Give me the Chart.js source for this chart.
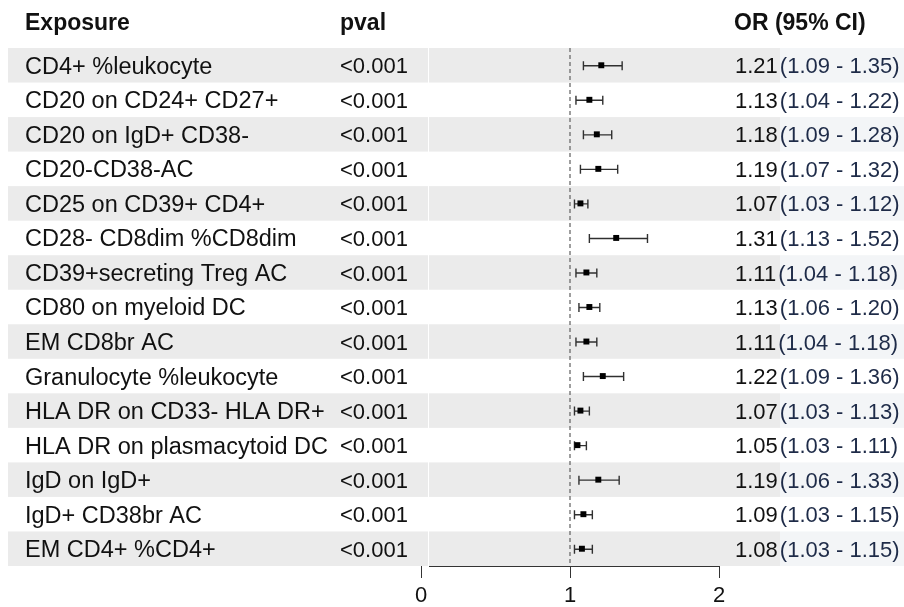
<!DOCTYPE html>
<html>
<head>
<meta charset="utf-8">
<script src="https://cdn.jsdelivr.net/npm/chart.js@4.4.1/dist/chart.umd.min.js"></script>
<style>
  html, body { margin: 0; padding: 0; background: #ffffff; }
  #wrap { position: relative; width: 904px; height: 607px; }
</style>
</head>
<body>
<div id="wrap"><canvas id="forest"></canvas></div>
<script>
// Exposures and their odds ratios with 95% confidence intervals
const exposures = [
  "CD4+ %leukocyte",
  "CD20 on CD24+ CD27+",
  "CD20 on IgD+ CD38-",
  "CD20-CD38-AC",
  "CD25 on CD39+ CD4+",
  "CD28- CD8dim %CD8dim",
  "CD39+secreting Treg AC",
  "CD80 on myeloid DC",
  "EM CD8br AC",
  "Granulocyte %leukocyte",
  "HLA DR on CD33- HLA DR+",
  "HLA DR on plasmacytoid DC",
  "IgD on IgD+",
  "IgD+ CD38br AC",
  "EM CD4+ %CD4+"
];
const pvals = ["<0.001","<0.001","<0.001","<0.001","<0.001","<0.001","<0.001","<0.001",
               "<0.001","<0.001","<0.001","<0.001","<0.001","<0.001","<0.001"];
const orValues = [1.21, 1.13, 1.18, 1.19, 1.07, 1.31, 1.11, 1.13, 1.11, 1.22, 1.07, 1.05, 1.19, 1.09, 1.08];
const ciLower  = [1.09, 1.04, 1.09, 1.07, 1.03, 1.13, 1.04, 1.06, 1.04, 1.09, 1.03, 1.03, 1.06, 1.03, 1.03];
const ciUpper  = [1.35, 1.22, 1.28, 1.32, 1.12, 1.52, 1.18, 1.20, 1.18, 1.36, 1.13, 1.11, 1.33, 1.15, 1.15];
const xTicks = [0, 1, 2];
const headers = ["Exposure", "pval", "OR (95% CI)"];

const FONT = '"Liberation Sans", Arial, Helvetica, sans-serif';
const fmt = v => v.toFixed(2);

// Table backdrop, text columns, whiskers and reference line
const forestTable = {
  id: 'forestTable',
  beforeDraw(chart) {
    const ctx = chart.ctx;
    const ys = chart.scales.y;
    const n = exposures.length;
    const half = Math.abs(ys.getPixelForValue(2) - ys.getPixelForValue(1)) / 2;
    ctx.save();
    for (let i = 0; i < n; i++) {
      if (i % 2 !== 0) continue;
      const yc = ys.getPixelForValue(i + 1);
      ctx.fillStyle = '#ebebeb';
      ctx.fillRect(8, yc - half, 772, half * 2);
      ctx.fillStyle = '#f3f5f7';
      ctx.fillRect(780, yc - half, 124, half * 2);
    }
    // thin column separator between table and plot panel
    ctx.fillStyle = '#ffffff';
    const top = ys.getPixelForValue(0.5), bottom = ys.getPixelForValue(n + 0.5);
    ctx.fillRect(428, top, 1, bottom - top);
    ctx.restore();
  },
  beforeDatasetsDraw(chart) {
    const ctx = chart.ctx;
    const xs = chart.scales.x, ys = chart.scales.y;
    const n = exposures.length;
    // null line at OR = 1
    ctx.save();
    ctx.strokeStyle = '#6b6b6b';
    ctx.lineWidth = 1.3;
    ctx.setLineDash([4, 3]);
    const x1 = xs.getPixelForValue(1);
    ctx.beginPath();
    ctx.moveTo(x1, ys.getPixelForValue(0.5));
    ctx.lineTo(x1, ys.getPixelForValue(n + 0.5));
    ctx.stroke();
    ctx.setLineDash([]);
    // confidence interval whiskers
    ctx.strokeStyle = '#303030';
    ctx.lineWidth = 1.4;
    for (let i = 0; i < n; i++) {
      const y = ys.getPixelForValue(i + 1) + 0.5;
      const xl = xs.getPixelForValue(ciLower[i]);
      const xh = xs.getPixelForValue(ciUpper[i]);
      ctx.beginPath();
      ctx.moveTo(xl, y); ctx.lineTo(xh, y);
      ctx.moveTo(xl, y - 4.5); ctx.lineTo(xl, y + 4.5);
      ctx.moveTo(xh, y - 4.5); ctx.lineTo(xh, y + 4.5);
      ctx.stroke();
    }
    ctx.restore();
  },
  afterDraw(chart) {
    const ctx = chart.ctx;
    const xs = chart.scales.x, ys = chart.scales.y;
    ctx.save();
    // x axis baseline, starting at the panel edge
    ctx.strokeStyle = '#333333';
    ctx.lineWidth = 1;
    const yb = Math.round(ys.getPixelForValue(exposures.length + 0.5)) + 0.5;
    ctx.beginPath();
    ctx.moveTo(429, yb);
    ctx.lineTo(xs.getPixelForValue(xTicks[xTicks.length - 1]), yb);
    ctx.stroke();

    ctx.textBaseline = 'middle';
    ctx.textAlign = 'left';
    ctx.fillStyle = '#111111';
    ctx.font = 'bold 23px ' + FONT;
    ctx.fillText(headers[0], 25, 24);
    ctx.fillText(headers[1], 340, 24);
    ctx.fillText(headers[2], 734, 24);
    exposures.forEach((name, i) => {
      const y = ys.getPixelForValue(i + 1) + 2;
      ctx.fillStyle = '#111111';
      ctx.font = '23.5px ' + FONT;
      ctx.fillText(name, 25, y);
      ctx.font = '22px ' + FONT;
      ctx.fillText(pvals[i], 340, y);
      const est = fmt(orValues[i]);
      ctx.fillText(est, 735, y);
      const w = ctx.measureText(est).width;
      ctx.fillStyle = '#1e2b48';
      ctx.fillText('(' + fmt(ciLower[i]) + ' - ' + fmt(ciUpper[i]) + ')', 735 + w + 2, y);
    });
    ctx.restore();
  }
};

new Chart(document.getElementById('forest'), {
  type: 'scatter',
  data: {
    datasets: [{
      data: orValues.map((v, i) => ({ x: v, y: i + 1 })),
      pointStyle: 'rect',
      pointRadius: 4.2,
      pointHoverRadius: 4.2,
      backgroundColor: '#000000',
      borderColor: '#000000',
      borderWidth: 0
    }]
  },
  options: {
    responsive: true,
    maintainAspectRatio: false,
    animation: false,
    events: [],
    layout: { padding: { left: 421, right: 185, top: 48, bottom: 0 } },
    plugins: { legend: { display: false }, tooltip: { enabled: false } },
    scales: {
      x: {
        type: 'linear',
        min: xTicks[0],
        max: xTicks[xTicks.length - 1],
        afterBuildTicks: s => { s.ticks = xTicks.map(v => ({ value: v })); },
        afterFit: s => { s.height = 41; },
        grid: { display: true, drawOnChartArea: false, drawTicks: true, tickLength: 12, color: '#333333', lineWidth: 1 },
        border: { display: false },
        ticks: { color: '#111111', font: { family: FONT, size: 22 }, padding: 5 }
      },
      y: {
        type: 'linear',
        display: false,
        reverse: true,
        min: 0.5,
        max: exposures.length + 0.5
      }
    }
  },
  plugins: [forestTable]
});
</script>
</body>
</html>
